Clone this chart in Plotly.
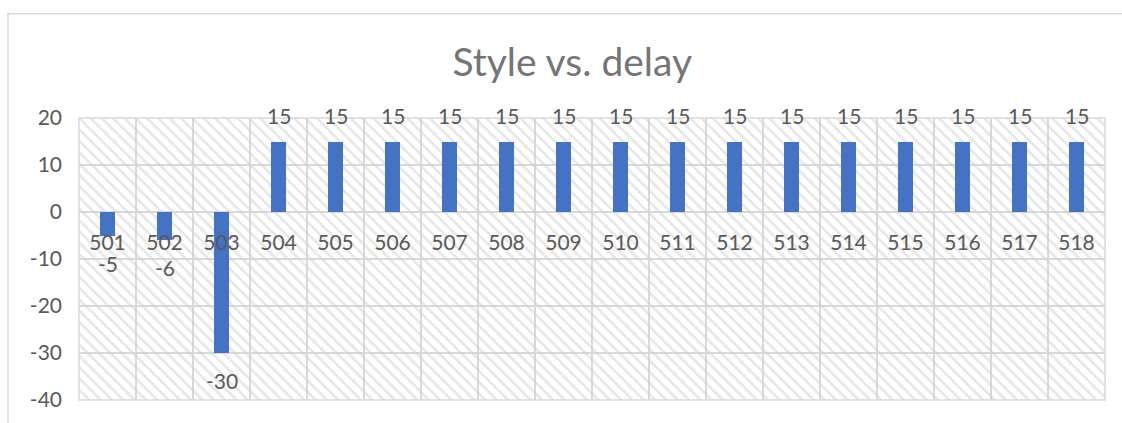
import plotly.graph_objects as go

# Delay per style
styles = [str(s) for s in range(501, 519)]
delay = [-5, -6, -30, 15, 15, 15, 15, 15, 15, 15, 15, 15, 15, 15, 15, 15, 15, 15]

y_min, y_max = -40, 20
y_ticks = list(range(y_min, y_max + 1, 10))
y_tick_text = [str(t) for t in y_ticks]

FONT = "Lato, 'Open Sans', sans-serif"
GRID = "#d9d9d9"
TEXT = "#595959"

fig = go.Figure()

# Hatched plot-area fill, one full-width cell per category
fig.add_trace(go.Bar(
    x=styles,
    y=[y_max - y_min] * len(styles),
    base=y_min,
    width=1,
    marker=dict(
        color="rgba(0,0,0,0)",
        line=dict(width=0),
        pattern=dict(shape="\\", fgcolor="#d0d0d0", bgcolor="rgba(0,0,0,0)",
                     size=8, solidity=0.35),
    ),
    hoverinfo="skip",
    showlegend=False,
))

# Delay bars
fig.add_trace(go.Bar(
    x=styles,
    y=delay,
    width=0.27,
    marker=dict(color="#4472C4", line=dict(width=0)),
    showlegend=False,
))

# Value labels beyond each bar end (category index used for placement)
for i, v in enumerate(delay):
    fig.add_annotation(
        x=i, y=v, text=str(v), showarrow=False,
        yanchor="bottom" if v >= 0 else "top",
        yshift=12 if v >= 0 else -13,
        font=dict(family=FONT, size=21, color=TEXT),
    )

# Plot-area border
fig.add_shape(type="rect", xref="x domain", yref="y domain",
              x0=0, x1=1, y0=0, y1=1,
              line=dict(color=GRID, width=1.5), layer="above")
# Chart-area border
fig.add_shape(type="rect", xref="paper", yref="paper",
              x0=-0.0692, x1=1.02, y0=-0.09, y1=1.3697,
              line=dict(color=GRID, width=1.5), layer="below")

zero_pos = (0 - y_min) / (y_max - y_min)

fig.update_layout(
    width=1122, height=423,
    margin=dict(l=79, r=17, t=118, b=21),
    paper_bgcolor="white",
    plot_bgcolor="white",
    barmode="overlay",
    bargap=0,
    title=dict(text="Style vs. delay", x=0.51, xanchor="center",
               y=0.853, yanchor="middle",
               font=dict(family=FONT, size=39, color="#757575")),
    xaxis=dict(
        type="category",
        tickson="boundaries",
        showgrid=True, gridcolor=GRID, gridwidth=1.5,
        ticks="", showline=False, zeroline=False,
        anchor="free", position=zero_pos,
        ticklabelstandoff=16,
        tickfont=dict(family=FONT, size=21, color=TEXT),
        range=[-0.5, len(styles) - 0.5],
    ),
    yaxis=dict(
        range=[y_min, y_max],
        tickvals=y_ticks,
        ticktext=y_tick_text,
        showgrid=True, gridcolor=GRID, gridwidth=1.5,
        zeroline=True, zerolinecolor=GRID, zerolinewidth=1.5,
        ticks="", showline=False,
        ticklabelstandoff=16,
        tickfont=dict(family=FONT, size=21, color=TEXT),
    ),
)

fig.write_html("out.html")
